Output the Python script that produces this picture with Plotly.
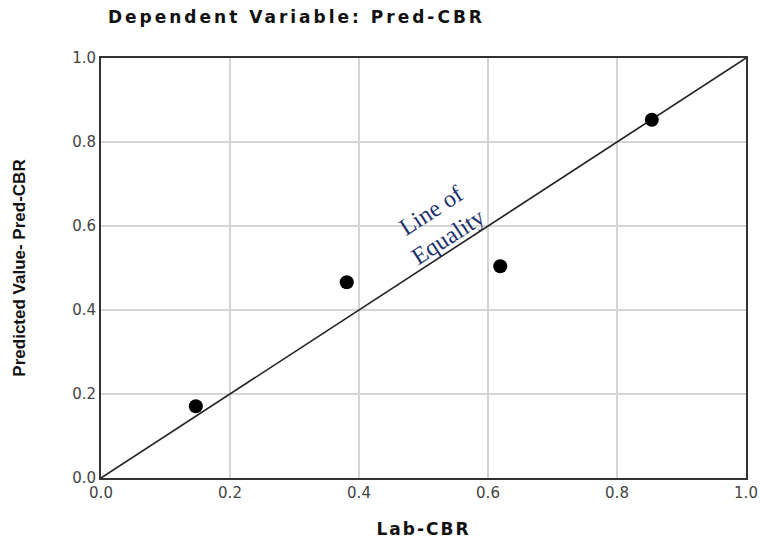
import plotly.graph_objects as go

lab_cbr = [0.147, 0.381, 0.619, 0.854]
pred_cbr = [0.171, 0.466, 0.504, 0.853]
equality_line = [0.0, 1.0]
ticks = [0.0, 0.2, 0.4, 0.6, 0.8, 1.0]
tick_labels = ["0.0", "0.2", "0.4", "0.6", "0.8", "1.0"]

fig = go.Figure()
fig.add_trace(go.Scatter(x=equality_line, y=equality_line, mode="lines",
                         line=dict(color="#222222", width=1.6), hoverinfo="skip"))
fig.add_trace(go.Scatter(x=lab_cbr, y=pred_cbr, mode="markers",
                         marker=dict(color="black", size=14, line=dict(width=0))))

fig.add_annotation(x=0.525, y=0.605, xref="x", yref="y", text="Line of<br>Equality",
                   showarrow=False, textangle=-33,
                   font=dict(family="Liberation Serif, DejaVu Serif, serif", size=24, color="#1a2f6b"))

fig.update_layout(
    width=760, height=539,
    margin=dict(l=101, r=14, t=58, b=61, autoexpand=False),
    paper_bgcolor="white", plot_bgcolor="white",
    showlegend=False,
    title=dict(text="<span style='letter-spacing:3px'><b>Dependent Variable: Pred-CBR</b></span>",
               x=0.142, xanchor="left",
               y=0.968, yanchor="middle", automargin=False,
               font=dict(family="DejaVu Sans, Verdana, sans-serif", size=17, color="#111111")),
)
axis_common = dict(range=[0, 1], tickvals=ticks, ticktext=tick_labels,
                   showgrid=True, gridcolor="#d4d4d4", gridwidth=2,
                   showline=True, linecolor="#333333", linewidth=2, mirror=True,
                   zeroline=False, ticks="", automargin=False,
                   tickfont=dict(family="DejaVu Sans, Verdana, sans-serif", size=15, color="#444444"))
fig.update_xaxes(**axis_common,
                 title=dict(text="<span style='letter-spacing:2px'><b>Lab-CBR</b></span>", standoff=32,
                            font=dict(family="DejaVu Sans, Verdana, sans-serif", size=17, color="#111111")))
fig.update_yaxes(**axis_common,
                 title=dict(text="<b>Predicted Value- Pred-CBR</b>", standoff=42,
                            font=dict(family="Liberation Sans Narrow, Arial Narrow, sans-serif", size=17, color="#111111")))

fig.write_html("out.html", config={"displayModeBar": False},
               post_script="document.body.style.margin='0';document.body.style.overflow='hidden';")
